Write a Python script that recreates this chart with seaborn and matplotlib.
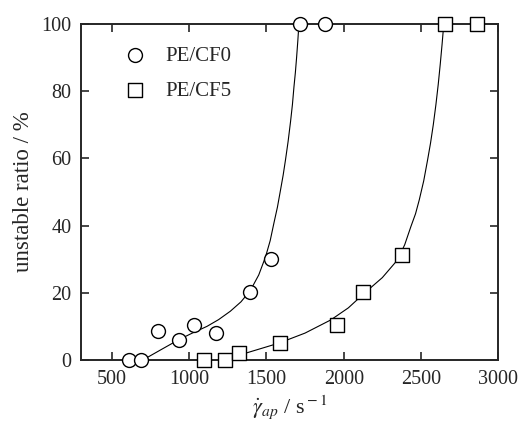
import matplotlib
matplotlib.use("Agg")
import matplotlib.pyplot as plt
import seaborn as sns

# measured points
cf0_rate = [610, 688, 797, 931, 1032, 1175, 1396, 1530, 1716, 1881]
cf0_ratio = [0, 0, 8.7, 6.0, 10.4, 7.9, 20.2, 30.0, 100, 100]
cf5_rate = [1097, 1229, 1322, 1587, 1955, 2128, 2377, 2656, 2864]
cf5_ratio = [0, 0, 2.2, 5.0, 10.4, 20.3, 31.2, 100, 100]

# fitted curves
fit0_rate = [700, 815, 931, 1020, 1115, 1190, 1266, 1335, 1396, 1450, 1494,
             1524, 1548, 1571, 1591, 1608, 1623, 1640, 1656, 1668, 1678,
             1687, 1695, 1703, 1710]
fit0_ratio = [0, 3, 6, 8, 10, 12, 14.5, 17.3, 20.7, 25.3, 30.7, 35.5, 40.7,
              45.5, 50.6, 55, 59.5, 65, 71, 76, 81.3, 85.5, 90, 95, 100]
fit5_rate = [1222, 1400, 1580, 1750, 1916, 2030, 2132, 2250, 2349, 2395,
             2435, 2465, 2489, 2518, 2543, 2562, 2580, 2597, 2612, 2625,
             2637, 2648]
fit5_ratio = [0, 2.5, 5, 8, 11.9, 15.5, 19.8, 24.5, 29.8, 34.3, 39.7, 43.5,
              47.6, 53.3, 59.5, 64.5, 70, 76, 82, 88, 94, 100]

sns.set_style("ticks")
plt.rcParams["font.family"] = ["Liberation Serif", "DejaVu Serif"]
plt.rcParams["mathtext.fontset"] = "stix"

fig = plt.figure(figsize=(5.2, 4.28), dpi=100)
ax = fig.add_axes([0.156, 0.159, 0.802, 0.785])

sns.lineplot(x=fit0_rate, y=fit0_ratio, ax=ax, color="black", lw=0.8,
             sort=False, estimator=None)
sns.lineplot(x=fit5_rate, y=fit5_ratio, ax=ax, color="black", lw=0.8,
             sort=False, estimator=None)

sns.scatterplot(x=cf0_rate, y=cf0_ratio, ax=ax, marker="o", s=100,
                facecolor="white", edgecolor="black", linewidth=1.0,
                label="PE/CF0", clip_on=False, zorder=3)
sns.scatterplot(x=cf5_rate, y=cf5_ratio, ax=ax, marker="s", s=105,
                facecolor="white", edgecolor="black", linewidth=1.0,
                label="PE/CF5", clip_on=False, zorder=3)

ax.set_xlim(300, 3000)
ax.set_ylim(0, 100)
ax.set_xticks([500, 1000, 1500, 2000, 2500, 3000])
ax.set_yticks([0, 20, 40, 60, 80, 100])
ax.tick_params(direction="in", length=6, width=1.2, top=True, right=True,
               labelsize=14.5, pad=7)
for sp in ax.spines.values():
    sp.set_linewidth(1.4)
    sp.set_visible(True)

ax.set_ylabel("unstable ratio / %", fontsize=16.5, labelpad=5)
ax.set_xlabel(r"$\dot{\gamma}_{ap}$ / s$^{\rm -1}$", fontsize=16, labelpad=3)

ax.legend(loc="upper left", bbox_to_anchor=(0.035, 0.99), frameon=False,
          fontsize=15, handletextpad=0.45, labelspacing=0.75)

fig.savefig("out.png", dpi=100)
